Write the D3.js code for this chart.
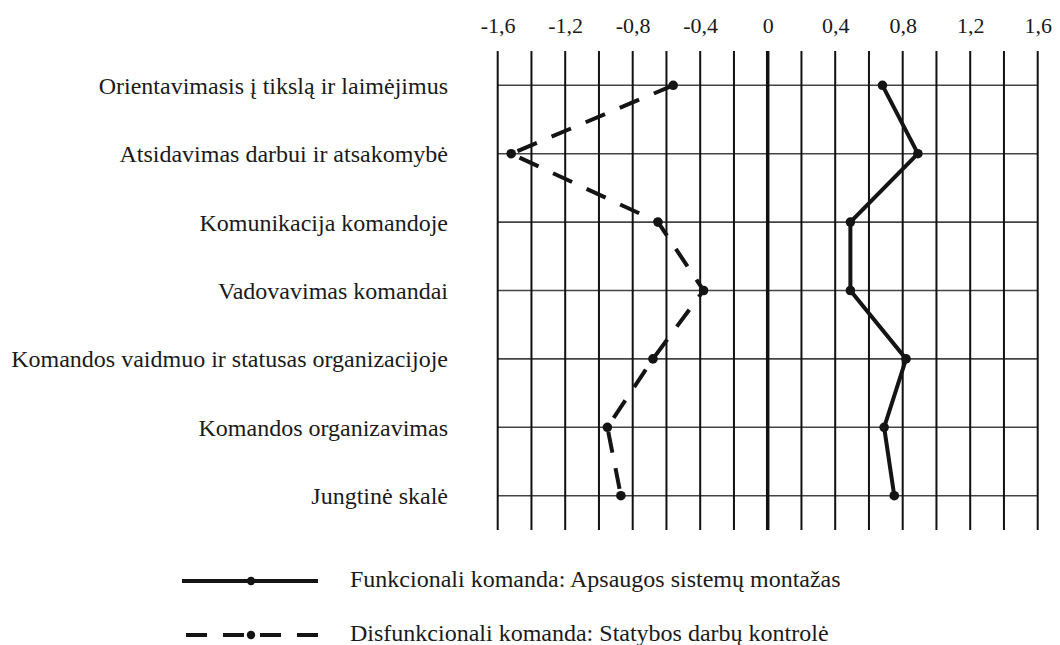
<!DOCTYPE html>
<html>
<head>
<meta charset="utf-8">
<script src="https://cdn.jsdelivr.net/npm/d3@7"></script>
<style>
  body { margin: 0; background: #fff; }
</style>
</head>
<body>
<svg id="grafikas" width="1060" height="645"></svg>
<script>
// Kategorijos (eilutės)
const kategorijos = [
  "Orientavimasis į tikslą ir laimėjimus",
  "Atsidavimas darbui ir atsakomybė",
  "Komunikacija komandoje",
  "Vadovavimas komandai",
  "Komandos vaidmuo ir statusas organizacijoje",
  "Komandos organizavimas",
  "Jungtinė skalė"
];

// Reikšmės
const funkcionali = [0.68, 0.89, 0.49, 0.49, 0.82, 0.69, 0.75];
const disfunkcionali = [-0.56, -1.52, -0.65, -0.38, -0.68, -0.95, -0.87];

// Ašies žymės
const asiesZymes = [-1.6, -1.2, -0.8, -0.4, 0, 0.4, 0.8, 1.2, 1.6];

const legendosTekstai = [
  "Funkcionali komanda: Apsaugos sistemų montažas",
  "Disfunkcionali komanda: Statybos darbų kontrolė"
];

const serifas = "'Liberation Serif', 'Times New Roman', serif";
const spalva = "#141414";

const svg = d3.select("#grafikas");

const x = d3.scaleLinear().domain([-1.6, 1.6]).range([497.7, 1037.7]);
const y = d3.scalePoint().domain(kategorijos).range([85.3, 495.7]);
const virsus = 51, apacia = 530;

// kablelis kaip dešimtainis skyriklis
const lt = d3.formatLocale({ decimal: ",", thousands: " ", grouping: [3], currency: ["", ""], minus: "-" });
const fmt = lt.format(".1f");

// Horizontalios linijos
svg.append("g")
  .selectAll("line")
  .data(kategorijos)
  .join("line")
  .attr("x1", x(-1.6))
  .attr("x2", x(1.6))
  .attr("y1", d => y(d))
  .attr("y2", d => y(d))
  .attr("stroke", "#444")
  .attr("stroke-width", 1.6);

// Vertikalios linijos kas 0,2
svg.append("g")
  .selectAll("line")
  .data(x.ticks(16))
  .join("line")
  .attr("x1", d => x(d))
  .attr("x2", d => x(d))
  .attr("y1", virsus)
  .attr("y2", apacia)
  .attr("stroke", "#111")
  .attr("stroke-width", d => Math.abs(d) < 1e-9 ? 3.5 : 2);

// Viršutinė ašis
const virsAsis = svg.append("g")
  .attr("transform", "translate(0,33)")
  .call(d3.axisTop(x)
    .tickValues(asiesZymes)
    .tickSize(0)
    .tickPadding(0)
    .tickFormat(d => d === 0 ? "0" : fmt(d)));
virsAsis.select(".domain").remove();
virsAsis.selectAll("text")
  .style("font-family", serifas)
  .style("font-size", "22px")
  .style("fill", "#1a1a1a");

// Kairė ašis (kategorijos)
const kairAsis = svg.append("g")
  .attr("transform", "translate(448,0)")
  .call(d3.axisLeft(y).tickSize(0).tickPadding(0));
kairAsis.select(".domain").remove();
kairAsis.selectAll("text")
  .attr("dy", "0.33em")
  .style("font-family", serifas)
  .style("font-size", "24px")
  .style("fill", "#1a1a1a");

// Linijos
const linija = d3.line()
  .x(d => x(d.v))
  .y(d => y(d.k));

const serijos = [
  { vardas: "funkcionali", reiksmes: funkcionali, dash: null },
  { vardas: "disfunkcionali", reiksmes: disfunkcionali, dash: "21,16" }
];

serijos.forEach(s => {
  const taskai = kategorijos.map((k, i) => ({ k: k, v: s.reiksmes[i] }));
  svg.append("path")
    .datum(taskai)
    .attr("d", linija)
    .attr("fill", "none")
    .attr("stroke", spalva)
    .attr("stroke-width", 4)
    .attr("stroke-dasharray", s.dash);
  svg.append("g")
    .selectAll("circle")
    .data(taskai)
    .join("circle")
    .attr("cx", d => x(d.v))
    .attr("cy", d => y(d.k))
    .attr("r", 4.8)
    .attr("fill", spalva);
});

// Legenda
const legenda = svg.append("g");
legendosTekstai.forEach((t, i) => {
  const ly = 581 + i * 54;
  const x0 = i === 0 ? 182 : 186;
  legenda.append("line")
    .attr("x1", x0).attr("x2", 318)
    .attr("y1", ly).attr("y2", ly)
    .attr("stroke", spalva)
    .attr("stroke-width", 4)
    .attr("stroke-dasharray", serijos[i].dash);
  legenda.append("circle")
    .attr("cx", 251).attr("cy", ly).attr("r", 4.2)
    .attr("fill", spalva);
  legenda.append("text")
    .attr("x", 350)
    .attr("y", ly)
    .attr("dy", "0.24em")
    .style("font-family", serifas)
    .style("font-size", "24px")
    .style("fill", "#1a1a1a")
    .text(t);
});
</script>
</body>
</html>
